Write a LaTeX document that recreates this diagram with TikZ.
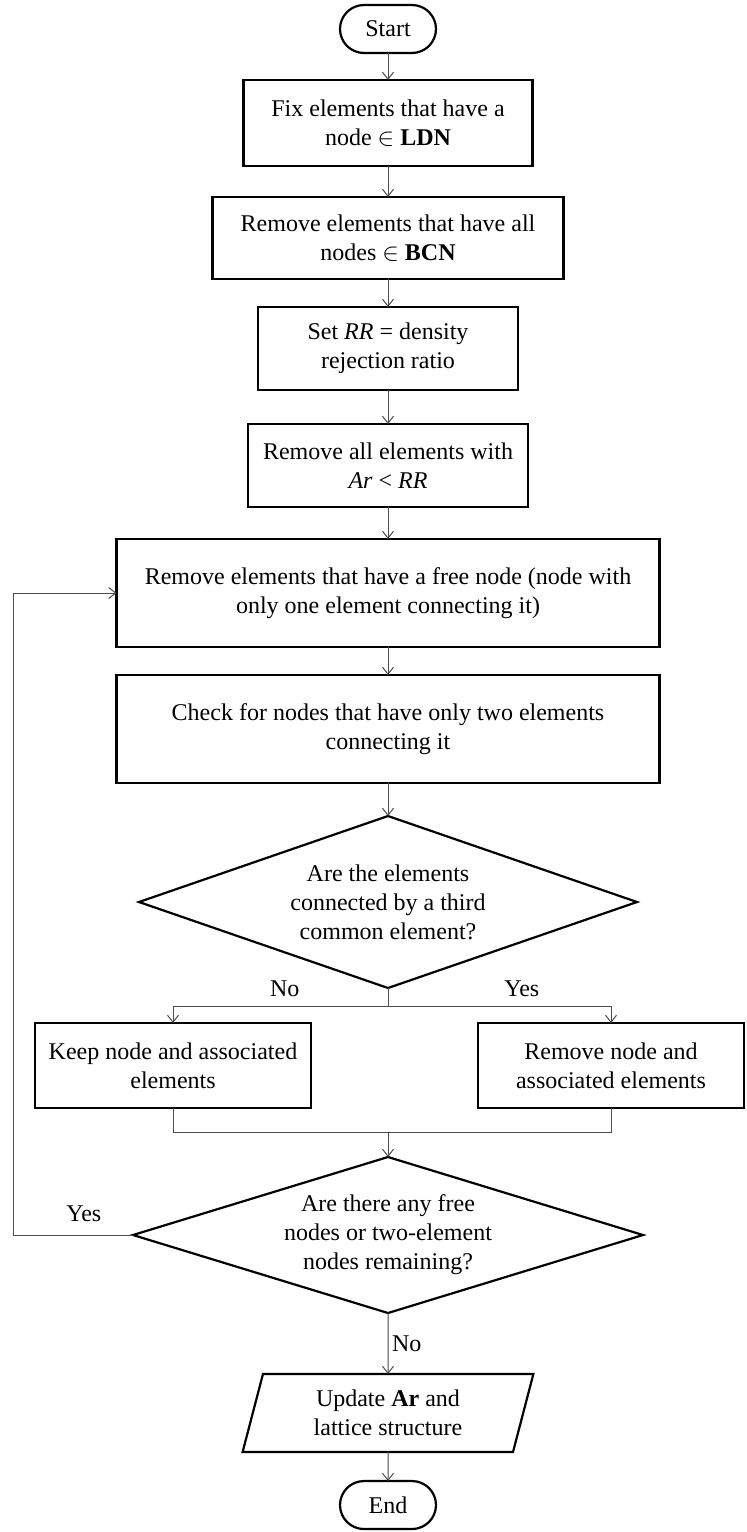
\documentclass[tikz,border=0pt]{standalone}
\usepackage{fontspec}
\setmainfont{Liberation Serif}
\usetikzlibrary{arrows.meta,positioning,shapes.geometric}
\begin{document}
\begin{tikzpicture}[font=\fontsize{24}{29}\selectfont,outer sep=0pt,
term/.style={draw,line width=2.2pt,rounded corners=24pt,minimum width=96pt,minimum height=48pt,inner sep=2pt},
procbox/.style={draw,line width=2.2pt,align=center,inner sep=4pt},
decision/.style={draw,diamond,line width=2.2pt,align=center,inner sep=0pt},
iobox/.style={draw,trapezium,trapezium left angle=76,trapezium right angle=104,trapezium stretches=true,line width=2.2pt,align=center,minimum width=291pt,minimum height=78pt,inner sep=2pt},
flow/.style={line width=1pt,black!70},
arr/.style={flow,-{Straight Barb[length=7pt,width=11pt]}},
lbl/.style={inner sep=2pt,text=black}]
\useasboundingbox (0,0) rectangle (747pt,-1532pt);
\node[term](start) at (388pt,-29pt){Start};
\node[procbox,minimum width=289pt,minimum height=86pt,below=27pt of start](fix){Fix elements that have a\\node $\in$ \textbf{LDN}};
\node[procbox,minimum width=351pt,minimum height=82pt,below=31pt of fix](rmall){Remove elements that have all\\nodes $\in$ \textbf{BCN}};
\node[procbox,minimum width=260pt,minimum height=83pt,below=28pt of rmall](setrr){Set \textit{RR} = density\\rejection ratio};
\node[procbox,minimum width=280pt,minimum height=83pt,below=34pt of setrr](arrr){Remove all elements with\\\textit{Ar} < \textit{RR}};
\node[procbox,minimum width=543pt,minimum height=108pt,below=32pt of arrr](free){Remove elements that have a free node (node with\\only one element connecting it)};
\node[procbox,minimum width=543pt,minimum height=108pt,below=28pt of free](check){Check for nodes that have only two elements\\connecting it};
\node[decision,aspect=2.9,minimum width=498pt,minimum height=172pt,below=33pt of check](dec1){Are the elements\\connected by a third\\common element?};
\node[procbox,minimum width=276pt,minimum height=85pt,below=35pt of dec1,xshift=-215pt](keep){Keep node and associated\\elements};
\node[procbox,minimum width=266pt,minimum height=85pt,below=35pt of dec1,xshift=223pt](remnode){Remove node and\\associated elements};
\node[decision,aspect=3.27,minimum width=510pt,minimum height=156pt,below=169pt of dec1](dec2){Are there any free\\nodes or two-element\\nodes remaining?};
\node[iobox,below=61pt of dec2](update){Update \textbf{Ar} and\\lattice structure};
\node[term,below=29pt of update](end){End};
\draw[arr](start)--(fix);\draw[arr](fix)--(rmall);\draw[arr](rmall)--(setrr);
\draw[arr](setrr)--(arrr);\draw[arr](arrr)--(free);\draw[arr](free)--(check);
\draw[arr](check)--(dec1);
\coordinate[below=18pt of dec1.south](split);
\draw[flow](dec1.south)--(split);
\draw[arr](split)-|node[lbl,pos=0.24,above=7pt]{No}(keep);
\draw[arr](split)-|node[lbl,pos=0.3,above=7pt]{Yes}(remnode);
\coordinate[above=25pt of dec2.north](merge);
\draw[flow](keep)|-(merge)-|(remnode);
\draw[arr](merge)--(dec2);
\draw[arr](dec2)--node[lbl,right=2pt]{No}(update);
\draw[arr](update)--(end);
\draw[flow](dec2.west)--node[lbl,pos=0.41,above=11pt]{Yes}++(-120pt,0)coordinate(loop);
\draw[arr](loop)|-(free.west);
\end{tikzpicture}
\end{document}
